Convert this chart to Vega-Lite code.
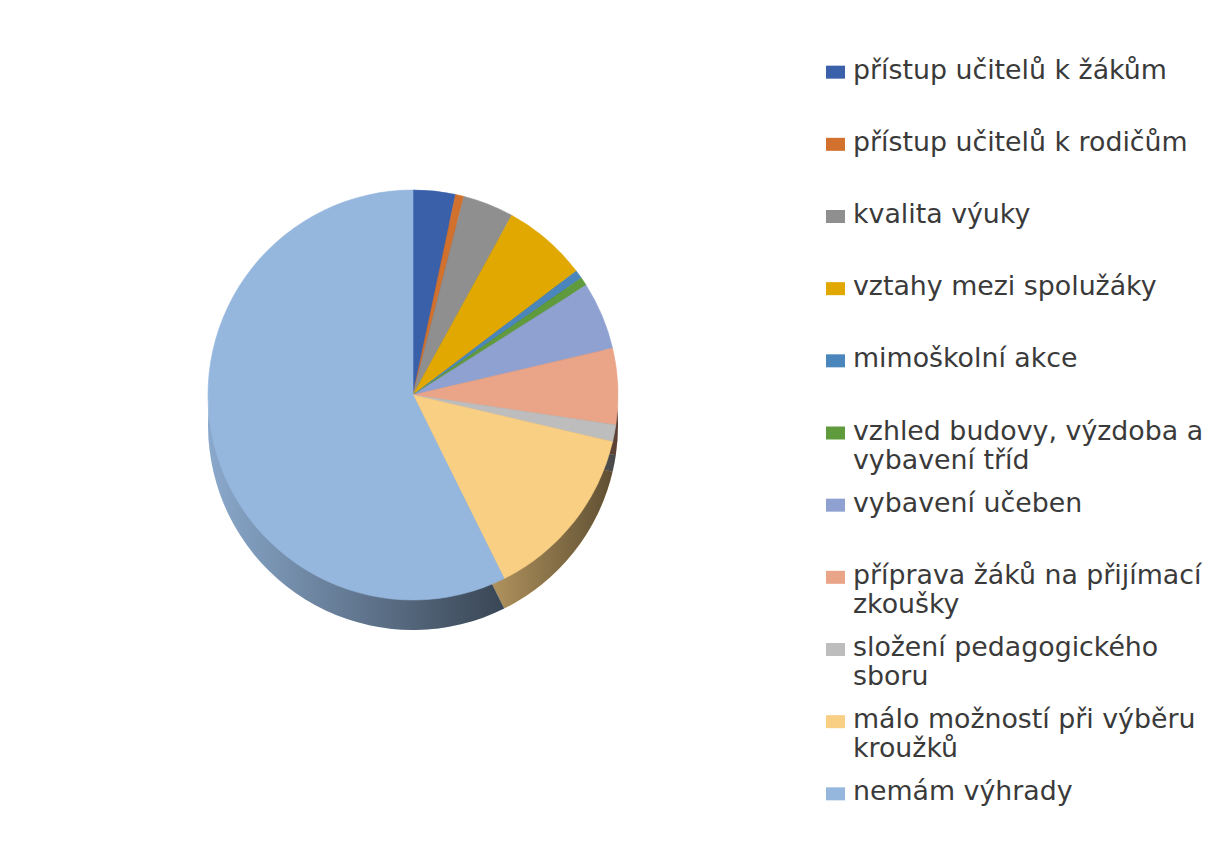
{
  "$schema": "https://vega.github.io/schema/vega-lite/v6.json",
  "background": "white",
  "padding": 0,
  "config": {"view": {"stroke": null}},
  "datasets": {
    "survey": [
      {"idx": 1, "category": "přístup učitelů k žákům", "label": "přístup učitelů k žákům", "count": 5},
      {"idx": 2, "category": "přístup učitelů k rodičům", "label": "přístup učitelů k rodičům", "count": 1},
      {"idx": 3, "category": "kvalita výuky", "label": "kvalita výuky", "count": 6},
      {"idx": 4, "category": "vztahy mezi spolužáky", "label": "vztahy mezi spolužáky", "count": 10},
      {"idx": 5, "category": "mimoškolní akce", "label": "mimoškolní akce", "count": 1},
      {"idx": 6, "category": "vzhled budovy, výzdoba a vybavení tříd", "label": "vzhled budovy, výzdoba a\nvybavení tříd", "count": 1},
      {"idx": 7, "category": "vybavení učeben", "label": "vybavení učeben", "count": 8},
      {"idx": 8, "category": "příprava žáků na přijímací zkoušky", "label": "příprava žáků na přijímací\nzkoušky", "count": 9},
      {"idx": 9, "category": "složení pedagogického sboru", "label": "složení pedagogického\nsboru", "count": 2},
      {"idx": 10, "category": "málo možností při výběru kroužků", "label": "málo možností při výběru\nkroužků", "count": 21},
      {"idx": 11, "category": "nemám výhrady", "label": "nemám výhrady", "count": 86}
    ]
  },
  "spacing": 0,
  "hconcat": [
    {
      "width": 826,
      "height": 790,
      "data": {"name": "survey"},
      "layer": [
        {
          "mark": {"type": "arc", "outerRadius": 205, "yOffset": 30},
          "encoding": {
            "theta": {"field": "count", "type": "quantitative"},
            "order": {"field": "idx", "type": "quantitative"},
            "color": {
              "field": "category", "type": "nominal", "legend": null,
              "scale": {
                "domain": ["přístup učitelů k žákům", "přístup učitelů k rodičům", "kvalita výuky", "vztahy mezi spolužáky", "mimoškolní akce", "vzhled budovy, výzdoba a vybavení tříd", "vybavení učeben", "příprava žáků na přijímací zkoušky", "složení pedagogického sboru", "málo možností při výběru kroužků", "nemám výhrady"],
                "range": ["#3a60aa", "#d2702d", "#8f8f8f", "#e0a800", "#4a86bb", "#5f9a3d", "#8ea1d1", "#eaa488", "#bdbdbd", "#f9cf84", "#96b7dd"]
              }
            }
          }
        },
        {
          "mark": {
            "type": "arc", "outerRadius": 205, "yOffset": 30,
            "fill": {"gradient": "linear", "x1": 0, "y1": 0, "x2": 1, "y2": 0,
              "stops": [{"offset": 0, "color": "rgba(0,0,0,0.08)"}, {"offset": 1, "color": "rgba(0,0,0,0.62)"}]}
          },
          "encoding": {
            "theta": {"field": "count", "type": "quantitative"},
            "order": {"field": "idx", "type": "quantitative"}
          }
        },
        {
          "mark": {"type": "arc", "outerRadius": 205, "strokeWidth": 0.6},
          "encoding": {
            "theta": {"field": "count", "type": "quantitative"},
            "order": {"field": "idx", "type": "quantitative"},
            "color": {
              "field": "category", "type": "nominal", "legend": null,
              "scale": {
                "domain": ["přístup učitelů k žákům", "přístup učitelů k rodičům", "kvalita výuky", "vztahy mezi spolužáky", "mimoškolní akce", "vzhled budovy, výzdoba a vybavení tříd", "vybavení učeben", "příprava žáků na přijímací zkoušky", "složení pedagogického sboru", "málo možností při výběru kroužků", "nemám výhrady"],
                "range": ["#3a60aa", "#d2702d", "#8f8f8f", "#e0a800", "#4a86bb", "#5f9a3d", "#8ea1d1", "#eaa488", "#bdbdbd", "#f9cf84", "#96b7dd"]
              }
            },
            "stroke": {
              "field": "category", "type": "nominal", "legend": null,
              "scale": {
                "domain": ["přístup učitelů k žákům", "přístup učitelů k rodičům", "kvalita výuky", "vztahy mezi spolužáky", "mimoškolní akce", "vzhled budovy, výzdoba a vybavení tříd", "vybavení učeben", "příprava žáků na přijímací zkoušky", "složení pedagogického sboru", "málo možností při výběru kroužků", "nemám výhrady"],
                "range": ["#3a60aa", "#d2702d", "#8f8f8f", "#e0a800", "#4a86bb", "#5f9a3d", "#8ea1d1", "#eaa488", "#bdbdbd", "#f9cf84", "#96b7dd"]
              }
            }
          }
        }
      ]
    },
    {
      "width": 19,
      "height": 866,
      "data": {"name": "survey"},
      "encoding": {
        "y": {"field": "category", "type": "nominal", "sort": null, "scale": {"type": "point", "padding": 1}, "axis": null}
      },
      "layer": [
        {
          "mark": {"type": "point", "filled": true, "opacity": 1, "shape": "M-1.46,-1L1.46,-1L1.46,1L-1.46,1Z", "size": 169},
          "encoding": {
            "color": {
              "field": "category", "type": "nominal", "legend": null,
              "scale": {
                "domain": ["přístup učitelů k žákům", "přístup učitelů k rodičům", "kvalita výuky", "vztahy mezi spolužáky", "mimoškolní akce", "vzhled budovy, výzdoba a vybavení tříd", "vybavení učeben", "příprava žáků na přijímací zkoušky", "složení pedagogického sboru", "málo možností při výběru kroužků", "nemám výhrady"],
                "range": ["#3a60aa", "#d2702d", "#8f8f8f", "#e0a800", "#4a86bb", "#5f9a3d", "#8ea1d1", "#eaa488", "#bdbdbd", "#f9cf84", "#96b7dd"]
              }
            }
          }
        },
        {
          "mark": {"type": "text", "align": "left", "baseline": "top", "dx": 17.5, "dy": -14.5, "font": "DejaVu Sans", "fontSize": 26.8, "lineHeight": 29, "lineBreak": "\n", "color": "#3a3a3a"},
          "encoding": {
            "text": {"field": "label", "type": "nominal"}
          }
        }
      ]
    }
  ]
}
